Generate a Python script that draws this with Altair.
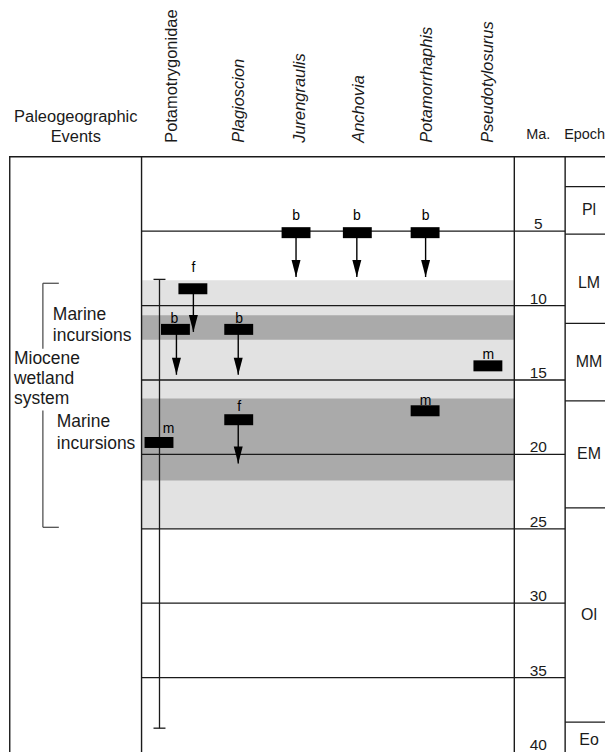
import altair as alt
import pandas as pd

FONT = "Liberation Sans"
INK = "#1a1a1a"

# ---------------- data ----------------
# time scale (Ma)
ma_lines = [5, 10, 15, 20, 25, 30, 35]
ma_labels = [5, 10, 15, 20, 25, 30, 35, 40]

epochs = ["Pl", "LM", "MM", "EM", "Ol", "Eo"]
epoch_start = [2.0, 5.2, 11.2, 16.4, 23.6, 38.0]
epoch_label_at = [3.6, 8.5, 13.8, 20.0, 30.8, 39.2]

# shaded bands (Ma)
band_kind = ["light", "dark", "dark"]
band_top = [8.3, 10.65, 16.25]
band_bottom = [25.0, 12.3, 21.75]

# taxa columns (layout position across the chart)
taxa = ["Potamotrygonidae", "Plagioscion", "Jurengraulis", "Anchovia",
        "Potamorrhaphis", "Pseudotylosurus"]
taxa_x = [172, 239, 300, 359, 427, 489]
taxa_italic = [False, True, True, True, True, True]

# fossil records
rec_code = ["f", "b", "m", "b", "f", "b", "b", "b", "m", "m"]
rec_x = [192.5, 175, 158.5, 238.5, 238.5, 296, 357.5, 425.5, 425.5, 488.5]
rec_ma = [8.87, 11.6, 19.2, 11.6, 17.67, 5.1, 5.1, 5.1, 17.07, 14.05]
rec_label_x = [193, 174, 168, 239, 239, 296, 357, 426, 426, 489]
rec_label_ma = [7.48, 10.9, 18.27, 10.9, 16.8, 4.0, 4.0, 4.0, 16.4, 13.3]

# arrows (shaft x, start Ma, tip Ma)
arrow_x = [193, 176, 238, 238, 296, 357, 426]
arrow_from = [8.87, 11.6, 11.6, 17.67, 5.1, 5.1, 5.1]
arrow_tip = [11.77, 14.65, 14.65, 20.61, 8.08, 8.08, 8.08]

# Potamotrygonidae stratigraphic range
range_x = 159
range_top = 8.24
range_bottom = 38.4

# left panel notes
note_text = ["Marine", "incursions", "Miocene", "wetland", "system", "Marine", "incursions"]
note_x = [52, 52, 13, 13, 13, 56, 56]
note_ma = [10.63, 12.07, 13.58, 14.92, 16.26, 17.8, 19.27]

bracket_x = 42
bracket_segments = [(8.5, 12.9), (17.05, 24.9)]
bracket_tick_ma = [8.5, 24.9]

# frame columns
frame_x = [8.75, 141, 515, 566]
panel_left, ma_col_right = 141, 566
main_right = 515
ma_label_x = 539
epoch_label_x = 590

# ---------------- scales ----------------
W = 598
RIGHT = 8 + W
BODY_MAX = 41
PX_PER_MA = 14.93
BODY_H = BODY_MAX * PX_PER_MA
HEAD_H = 146

xs = alt.Scale(domain=[8, RIGHT], range=[0, W], nice=False, zero=False)
ys = alt.Scale(domain=[0, BODY_MAX], reverse=True, nice=False, zero=False)
hys = alt.Scale(domain=[8, 8 + HEAD_H], reverse=True, nice=False, zero=False)


def X(f):
    return alt.X(f, type="quantitative", scale=xs, axis=None)


def X2(f):
    return alt.X2(f)


def Y(f):
    return alt.Y(f, type="quantitative", scale=ys, axis=None)


def Y2(f):
    return alt.Y2(f)


# ---------------- body ----------------
bands = pd.DataFrame({"kind": band_kind, "top": band_top, "bot": band_bottom,
                      "x0": panel_left, "x1": main_right})
band_layer = alt.Chart(bands).mark_rect().encode(
    x=X("x0"), x2=X2("x1"), y=Y("top"), y2=Y2("bot"),
    color=alt.Color("kind:N", scale=alt.Scale(domain=["light", "dark"],
                                              range=["#e2e2e2", "#aaaaaa"]), legend=None),
)

hlines = pd.DataFrame({"ma": ma_lines, "x0": panel_left, "x1": ma_col_right})
hline_layer = alt.Chart(hlines).mark_rule(color=INK, strokeWidth=1.3).encode(
    x=X("x0"), x2=X2("x1"), y=Y("ma"))

top_border = pd.DataFrame({"ma": [0], "x0": [8], "x1": [RIGHT]})
top_layer = alt.Chart(top_border).mark_rule(color=INK, strokeWidth=1.6).encode(
    x=X("x0"), x2=X2("x1"), y=Y("ma"))

vlines = pd.DataFrame({"x": frame_x, "y0": 0, "y1": BODY_MAX})
vline_layer = alt.Chart(vlines).mark_rule(color=INK, strokeWidth=1.4).encode(
    x=X("x"), y=Y("y0"), y2=Y2("y1"))

ep = pd.DataFrame({"ma": epoch_start, "x0": ma_col_right, "x1": RIGHT})
ep_layer = alt.Chart(ep).mark_rule(color=INK, strokeWidth=1.3).encode(
    x=X("x0"), x2=X2("x1"), y=Y("ma"))

ep_lab = pd.DataFrame({"t": epochs, "ma": epoch_label_at, "x": epoch_label_x})
ep_lab_layer = alt.Chart(ep_lab).mark_text(font=FONT, fontSize=16, color=INK,
                                           align="center", baseline="middle").encode(
    x=X("x"), y=Y("ma"), text="t:N")

ma_lab = pd.DataFrame({"t": [str(v) for v in ma_labels], "ma": ma_labels, "x": ma_label_x})
ma_lab_layer = alt.Chart(ma_lab).mark_text(font=FONT, fontSize=15.5, color=INK,
                                           align="center", baseline="bottom", dy=1).encode(
    x=X("x"), y=Y("ma"), text="t:N")

# range bar
rng = pd.DataFrame({"x": [range_x], "y0": [range_top], "y1": [range_bottom]})
rng_layer = alt.Chart(rng).mark_rule(color=INK, strokeWidth=1.3).encode(
    x=X("x"), y=Y("y0"), y2=Y2("y1"))
caps = pd.DataFrame({"x0": [range_x - 6] * 2, "x1": [range_x + 6] * 2,
                     "ma": [range_top, range_bottom]})
cap_layer = alt.Chart(caps).mark_rule(color=INK, strokeWidth=1.3).encode(
    x=X("x0"), x2=X2("x1"), y=Y("ma"))

# arrows
arr = pd.DataFrame({"x": arrow_x, "y0": arrow_from, "y1": arrow_tip})
shaft_layer = alt.Chart(arr).mark_rule(color="#000", strokeWidth=1.4).encode(
    x=X("x"), y=Y("y0"), y2=Y2("y1"))
head_layer = alt.Chart(arr).mark_point(
    shape="M-0.53,-1L0.53,-1L0,1Z", size=289, filled=True, color="#000",
    opacity=1, strokeWidth=0, yOffset=-8.5).encode(x=X("x"), y=Y("y1"))

# record bars
rec = pd.DataFrame({"x": rec_x, "ma": rec_ma, "code": rec_code,
                    "lx": rec_label_x, "lma": rec_label_ma})
bar_layer = alt.Chart(rec).mark_point(
    shape="M-1,-0.38L1,-0.38L1,0.38L-1,0.38Z", size=841, filled=True,
    color="#000", opacity=1, strokeWidth=0).encode(x=X("x"), y=Y("ma"))
code_layer = alt.Chart(rec).mark_text(font=FONT, fontSize=14, color="#000",
                                      align="center", baseline="middle").encode(
    x=X("lx"), y=Y("lma"), text="code:N")

# notes & brackets
notes = pd.DataFrame({"t": note_text, "x": note_x, "ma": note_ma})
note_layer = alt.Chart(notes).mark_text(font=FONT, fontSize=17.5, color=INK,
                                        align="left", baseline="middle").encode(
    x=X("x"), y=Y("ma"), text="t:N")
br = pd.DataFrame({"x": bracket_x, "y0": [s[0] for s in bracket_segments],
                   "y1": [s[1] for s in bracket_segments]})
br_layer = alt.Chart(br).mark_rule(color="#444", strokeWidth=1.2).encode(
    x=X("x"), y=Y("y0"), y2=Y2("y1"))
brt = pd.DataFrame({"x0": bracket_x, "x1": bracket_x + 16, "ma": bracket_tick_ma})
brt_layer = alt.Chart(brt).mark_rule(color="#444", strokeWidth=1.2).encode(
    x=X("x0"), x2=X2("x1"), y=Y("ma"))

body = alt.layer(
    band_layer, hline_layer, ep_layer, vline_layer, top_layer, rng_layer, cap_layer,
    shaft_layer, head_layer, bar_layer, code_layer, ma_lab_layer, ep_lab_layer,
    note_layer, br_layer, brt_layer,
).properties(width=W, height=BODY_H)

# ---------------- header ----------------
def HY(f):
    return alt.Y(f, type="quantitative", scale=hys, axis=None)


head_taxa = pd.DataFrame({"t": taxa, "x": taxa_x, "italic": taxa_italic, "y": 141})
taxa_norm = alt.Chart(head_taxa).transform_filter("!datum.italic").mark_text(
    font=FONT, fontSize=16.5, color=INK, angle=270, align="left", baseline="middle"
).encode(x=X("x"), y=HY("y"), text="t:N")
taxa_it = alt.Chart(head_taxa).transform_filter("datum.italic").mark_text(
    font=FONT, fontSize=16.5, color=INK, angle=270, align="left", baseline="middle",
    fontStyle="italic").encode(x=X("x"), y=HY("y"), text="t:N")

head_words = pd.DataFrame({
    "t": ["Paleogeographic", "Events"], "x": [75, 75], "y": [115, 135]})
hw_layer = alt.Chart(head_words).mark_text(font=FONT, fontSize=16.5, color=INK,
                                           align="center", baseline="middle").encode(
    x=X("x"), y=HY("y"), text="t:N")
head_cols = pd.DataFrame({"t": ["Ma.", "Epoch"], "x": [527, 565], "y": [133, 133]})
hc_layer = alt.Chart(head_cols).mark_text(font=FONT, fontSize=14.5, color=INK,
                                          align="left", baseline="middle").encode(
    x=X("x"), y=HY("y"), text="t:N")

header = alt.layer(taxa_norm, taxa_it, hw_layer, hc_layer).properties(width=W, height=HEAD_H)

chart = alt.vconcat(header, body, spacing=0).properties(padding=0).configure_view(stroke=None)

chart.save("out.html", embed_options={"renderer": "svg", "actions": False})
